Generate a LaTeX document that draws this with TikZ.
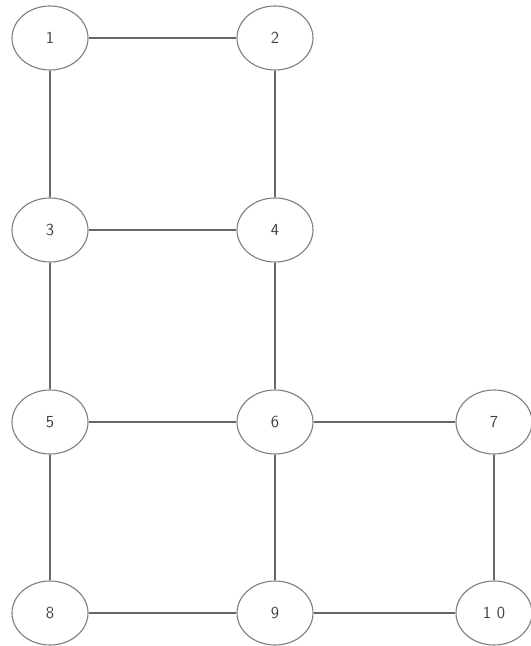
\documentclass[tikz,border=0pt]{standalone}
\usetikzlibrary{shapes.geometric}

\begin{document}
\begin{tikzpicture}[
  x=1cm,
  y=1cm,
  vertex/.style={draw=black!50, ellipse, line width=0.8pt, minimum width=1.9cm,
    minimum height=1.6cm, inner sep=0pt, font=\sffamily\fontsize{12}{14}\selectfont,
    text=black!75},
  link/.style={draw=black!60, line width=0.8pt}
]
\useasboundingbox (0,0) rectangle (13.25,-16.15);
\node[vertex] (n1) at (1.25,-0.95) {1};
\node[vertex] (n2) at (6.875,-0.95) {2};
\node[vertex] (n3) at (1.25,-5.75) {3};
\node[vertex] (n4) at (6.875,-5.75) {4};
\node[vertex] (n5) at (1.25,-10.55) {5};
\node[vertex] (n6) at (6.875,-10.55) {6};
\node[vertex] (n7) at (12.35,-10.55) {7};
\node[vertex] (n8) at (1.25,-15.325) {8};
\node[vertex] (n9) at (6.875,-15.325) {9};
\node[vertex] (n10) at (12.35,-15.325) {1 0};
\draw[link] (n1) -- (n2);
\draw[link] (n1) -- (n3);
\draw[link] (n2) -- (n4);
\draw[link] (n3) -- (n4);
\draw[link] (n3) -- (n5);
\draw[link] (n4) -- (n6);
\draw[link] (n5) -- (n6);
\draw[link] (n6) -- (n7);
\draw[link] (n5) -- (n8);
\draw[link] (n6) -- (n9);
\draw[link] (n7) -- (n10);
\draw[link] (n8) -- (n9);
\draw[link] (n9) -- (n10);
\end{tikzpicture}
\end{document}
